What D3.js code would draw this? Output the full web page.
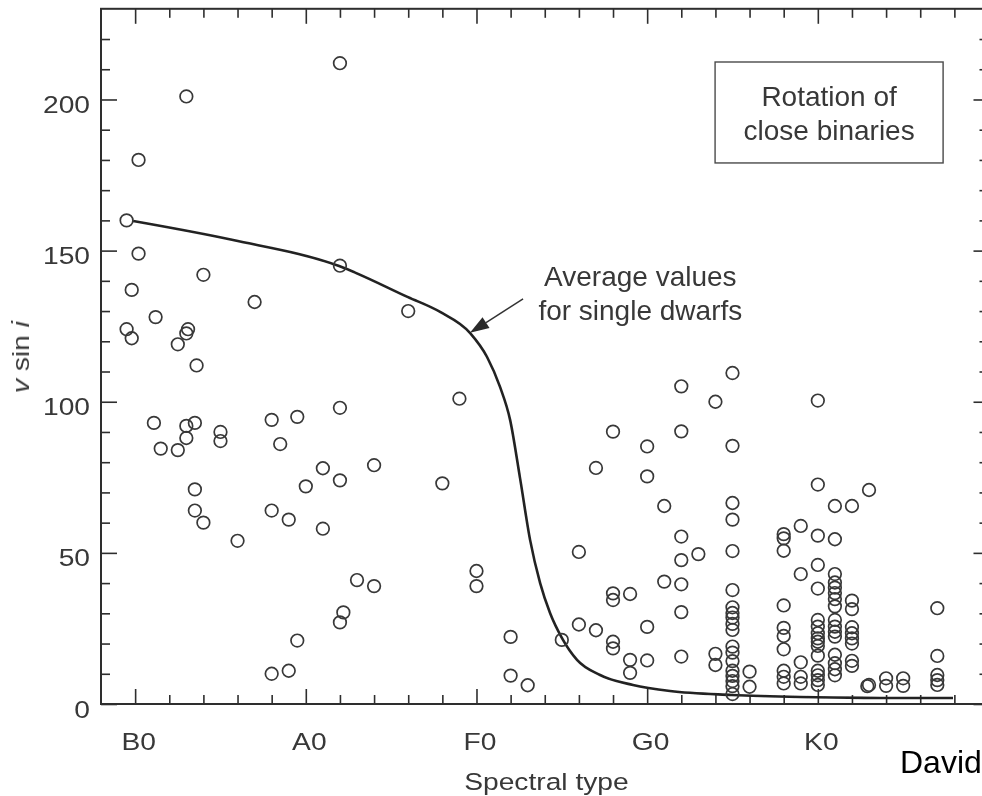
<!DOCTYPE html>
<html>
<head>
<meta charset="utf-8">
<script src="https://cdn.jsdelivr.net/npm/d3@7"></script>
<style>
  body { margin: 0; background: #fff; }
  svg { display: block; }
  text { font-family: "Liberation Sans", Arial, Helvetica, sans-serif; }
</style>
</head>
<body>
<svg id="chart" width="982" height="796"></svg>
<script>
// Spectral type is numeric: B0 = 0, A0 = 10, F0 = 20, G0 = 30, K0 = 40 (one unit per subclass)
const spectralTicks  = [0, 10, 20, 30, 40];
const spectralLabels = ["B0", "A0", "F0", "G0", "K0"];
const vsiniTicks     = [0, 50, 100, 150, 200];

// Close binaries: spectral type and v sin i (km/s)
const binaryType = [
  // B and A stars
  0.2, -0.5, 0.2, 4.0, -0.2, 7.0, 12, 3.0, 12, 16,
  1.2, -0.5, -0.2, 3.1, 3.0, 2.5, 3.6, 19, 1.1, 1.5,
  2.5, 3.0, 3.5, 3.0, 5.0, 5.0, 3.5, 3.5, 4.0, 6.0,
  8.0, 9.5, 8.5, 12, 11, 10, 12, 14, 8, 9,
  11, 13, 14, 12.2, 12, 9.5, 8, 9, 18, 20, 20,
  // F and early G stars
  22, 22, 23, 25, 26, 26, 27, 27, 28, 28,
  28, 29, 28, 28, 29, 29, 30, 30, 30, 30,
  31, 31, 32, 32, 32, 32, 32, 32, 32, 33,
  34, 34, 34,
  // G5
  35, 35, 35, 35, 35, 35, 35, 35, 35, 35,
  35, 35, 35, 35, 35, 35, 35, 35, 35,
  36, 36,
  // late G and K stars
  38, 38, 38, 38, 38, 38, 38, 38, 38, 38,
  39, 39, 39, 39, 39,
  40, 40, 40, 40, 40, 40, 40, 40, 40, 40, 40, 40, 40, 40, 40, 40,
  41, 41, 41, 41, 41, 41, 41, 41, 41, 41, 41, 41, 41, 41, 41, 41,
  42, 42, 42, 42, 42, 42, 42, 42, 42,
  43, 43, 42.9,
  44, 44, 45, 45,
  47, 47, 47, 47, 47
];
const binaryVsini = [
  180, 160, 149, 142, 137, 133, 212, 201, 145, 130,
  128, 124, 121, 124, 122.6, 119, 112, 101, 93, 84.5,
  84, 92, 93, 88, 90, 87, 71, 64, 60, 54,
  94, 95, 86, 98, 78, 72, 74, 79, 64, 61,
  58, 41, 39, 30.3, 27, 21, 10, 11, 73, 44, 39,
  22.2, 9.4, 6.2, 21.2, 50.3, 26.3, 24.4, 78.1, 90.1, 36.6,
  34.4, 36.4, 20.6, 18.4, 14.6, 10.3, 85.2, 75.3, 25.5, 14.4,
  65.5, 40.5, 105.1, 90.2, 55.4, 47.6, 39.6, 30.4, 15.7, 49.6,
  100, 16.6, 12.9,
  109.5, 85.4, 66.5, 61, 50.6, 37.7, 32, 30.1, 28.6, 26.5,
  24.5, 19, 17, 14.2, 11, 9.3, 7.6, 5.9, 3.3,
  10.7, 5.7,
  56.2, 54.8, 50.7, 32.6, 25.2, 22.5, 18.1, 11, 9, 6.8,
  58.9, 43, 13.8, 9, 6.8,
  100.4, 72.6, 55.7, 46, 38.2, 27.8, 25.6, 23.4, 21.7, 20.6, 19.2, 16, 11, 9.5, 7.9, 6.3,
  65.5, 54.5, 43, 40.2, 38.5, 36.7, 34.7, 32.3, 27.8, 25.6, 23.9, 22.3, 16.3, 13.5, 11.5, 9.5,
  65.5, 34.2, 31.4, 25.4, 23.4, 21.7, 20, 14.3, 12.6,
  70.8, 6.3, 5.9,
  8.5, 6.0, 8.5, 6.0,
  31.7, 15.9, 9.6, 7.9, 6.3
];

// Mean rotation of single main-sequence dwarfs
const dwarfType  = [-0.12, 5.74, 11.95, 15.99, 17.87, 19.63, 20.62, 21.38, 21.97, 22.55, 23.14,
                    23.73, 24.31, 25.01, 25.89, 27.24, 29.17, 31.34, 34.97, 38.96, 43.64, 47.92];
const dwarfVsini = [159.8, 153.5, 144.9, 134.6, 129.7, 122.7, 114.8, 104.9, 94.0, 74.8, 54.3,
                    40.0, 30.1, 21.8, 14.6, 9.6, 6.3, 4.3, 3.0, 2.3, 2.0, 2.0];

const svg = d3.select("#chart");
const ink = "#2e2e2e";
const textInk = "#383838";
const stretch = 1.2;      // the axis lettering is set slightly extended

const x = d3.scaleLinear().domain([-2, 50]).range([101, 988.5]);
const y = d3.scaleLinear().domain([0, 230]).range([704, 8.8]);

// slight softness of the printed figure
const defs = svg.append("defs");
defs.append("filter").attr("id", "soft")
  .attr("x", "-5%").attr("y", "-5%").attr("width", "110%").attr("height", "110%")
  .append("feGaussianBlur").attr("stdDeviation", 0.45);

const plot = svg.append("g").attr("filter", "url(#soft)");

// frame
plot.append("rect")
  .attr("x", x(-2)).attr("y", y(230))
  .attr("width", x(50) - x(-2)).attr("height", y(0) - y(230))
  .attr("fill", "none").attr("stroke", ink).attr("stroke-width", 2);

const minorX = d3.range(-2, 50, 2).filter(v => !spectralTicks.includes(v) && v > -2);
const minorY = d3.range(10, 230, 10).filter(v => !vsiniTicks.includes(v));

function styleTicks(g) {
  g.select(".domain").remove();
  g.selectAll(".tick line").attr("stroke", ink).attr("stroke-width", 1.6);
}

// bottom axis
plot.append("g").attr("transform", `translate(0,${y(0)})`)
  .call(d3.axisBottom(x).tickValues(minorX).tickSizeInner(-9).tickSizeOuter(0).tickFormat(""))
  .call(styleTicks);
plot.append("g").attr("transform", `translate(0,${y(0)})`)
  .call(d3.axisBottom(x).tickValues(spectralTicks).tickSizeInner(-15).tickSizeOuter(0)
        .tickFormat((d, i) => spectralLabels[i]))
  .call(styleTicks)
  .call(g => g.selectAll(".tick text")
    .attr("font-size", 23.5).attr("fill", textInk)
    .attr("text-anchor", "middle")
    .attr("x", 3 / stretch).attr("y", 46).attr("dy", 0)
    .attr("transform", `scale(${stretch},1)`));

// top axis
plot.append("g").attr("transform", `translate(0,${y(230)})`)
  .call(d3.axisTop(x).tickValues(minorX).tickSizeInner(-9).tickSizeOuter(0).tickFormat(""))
  .call(styleTicks);
plot.append("g").attr("transform", `translate(0,${y(230)})`)
  .call(d3.axisTop(x).tickValues(spectralTicks).tickSizeInner(-15).tickSizeOuter(0).tickFormat(""))
  .call(styleTicks);

// left axis
plot.append("g").attr("transform", `translate(${x(-2)},0)`)
  .call(d3.axisLeft(y).tickValues(minorY).tickSizeInner(-9).tickSizeOuter(0).tickFormat(""))
  .call(styleTicks);
plot.append("g").attr("transform", `translate(${x(-2)},0)`)
  .call(d3.axisLeft(y).tickValues(vsiniTicks).tickSizeInner(-16).tickSizeOuter(0).tickFormat(d3.format("d")))
  .call(styleTicks)
  .call(g => g.selectAll(".tick text")
    .attr("font-size", 23.5).attr("fill", textInk)
    .attr("text-anchor", "end")
    .attr("x", -11 / stretch).attr("y", 13).attr("dy", 0)
    .attr("transform", `scale(${stretch},1)`));

// right axis
plot.append("g").attr("transform", `translate(${x(50)},0)`)
  .call(d3.axisRight(y).tickValues(minorY).tickSizeInner(-9).tickSizeOuter(0).tickFormat(""))
  .call(styleTicks);
plot.append("g").attr("transform", `translate(${x(50)},0)`)
  .call(d3.axisRight(y).tickValues(vsiniTicks).tickSizeInner(-15).tickSizeOuter(0).tickFormat(""))
  .call(styleTicks);

// axis titles
plot.append("text")
  .attr("transform", `translate(${x(24.1)},790) scale(${stretch},1)`)
  .attr("font-size", 23.5).attr("fill", textInk).attr("text-anchor", "middle")
  .text("Spectral type");

const yTitle = plot.append("text")
  .attr("transform", `translate(29,357) rotate(-90) scale(${stretch},1)`)
  .attr("font-size", 23.5).attr("fill", textInk).attr("text-anchor", "middle");
yTitle.append("tspan").attr("font-style", "italic").text("v");
yTitle.append("tspan").text(" sin ");
yTitle.append("tspan").attr("font-style", "italic").text("i");

// single-dwarf mean curve
const dwarfLine = d3.line()
  .x((d, i) => x(dwarfType[i]))
  .y((d, i) => y(dwarfVsini[i]))
  .curve(d3.curveMonotoneX);
plot.append("path")
  .datum(dwarfType)
  .attr("d", dwarfLine)
  .attr("fill", "none").attr("stroke", "#222").attr("stroke-width", 2.6);

// close binaries
plot.append("g").selectAll("circle")
  .data(binaryType)
  .join("circle")
  .attr("cx", (d, i) => x(d))
  .attr("cy", (d, i) => y(binaryVsini[i]))
  .attr("r", 6.3)
  .attr("fill", "none")
  .attr("stroke", "#383838")
  .attr("stroke-width", 1.7);

// legend box
const boxL = x(33.98), boxR = x(47.34), boxT = y(212.4), boxB = y(179);
plot.append("rect")
  .attr("x", boxL).attr("y", boxT).attr("width", boxR - boxL).attr("height", boxB - boxT)
  .attr("fill", "none").attr("stroke", "#4a4a4a").attr("stroke-width", 1.4);
const boxText = plot.append("text")
  .attr("font-size", 28).attr("fill", textInk).attr("text-anchor", "middle");
boxText.append("tspan").attr("x", (boxL + boxR) / 2).attr("y", boxT + 44).text("Rotation of");
boxText.append("tspan").attr("x", (boxL + boxR) / 2).attr("y", boxT + 78).text("close binaries");

// annotation for the dwarf curve
const noteX = x(29.6), noteY = y(138.3);
const note = plot.append("text")
  .attr("font-size", 28).attr("fill", textInk).attr("text-anchor", "middle");
note.append("tspan").attr("x", noteX).attr("y", noteY).text("Average values");
note.append("tspan").attr("x", noteX).attr("y", noteY + 34).text("for single dwarfs");

const tail = [x(22.73), y(134)];
const tip  = [x(19.62), y(122.8)];
const dx = tip[0] - tail[0], dy = tip[1] - tail[1];
const len = Math.hypot(dx, dy), ux = dx / len, uy = dy / len;
const headLen = 19, headHalf = 6.5;
const base = [tip[0] - ux * headLen, tip[1] - uy * headLen];
plot.append("line")
  .attr("x1", tail[0]).attr("y1", tail[1]).attr("x2", base[0]).attr("y2", base[1])
  .attr("stroke", "#333").attr("stroke-width", 1.5);
plot.append("path")
  .attr("d", `M${tip[0]},${tip[1]}L${base[0] - uy * headHalf},${base[1] + ux * headHalf}` +
             `L${base[0] + uy * headHalf},${base[1] - ux * headHalf}Z`)
  .attr("fill", "#2a2a2a");

// caption fragment at the lower right
svg.append("text")
  .attr("x", 900).attr("y", 773)
  .attr("font-size", 32).attr("fill", "#000")
  .text("David");
</script>
</body>
</html>
